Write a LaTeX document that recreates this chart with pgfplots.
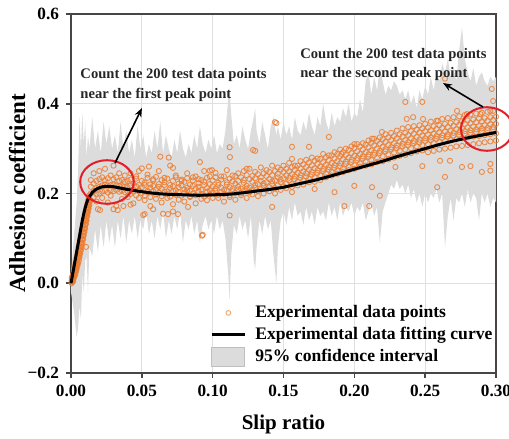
\documentclass[border=0pt]{standalone}
\usepackage{pgfplots}
\pgfplotsset{compat=1.18}
\usepackage{pgfplotstable}
\usepgfplotslibrary{fillbetween}
\usetikzlibrary{arrows.meta}
\usepackage{fontspec}
\setmainfont{Liberation Serif}
\definecolor{orng}{RGB}{237,125,49}
\definecolor{bandgray}{RGB}{220,220,220}
\definecolor{axgray}{RGB}{70,70,70}
\definecolor{ellred}{RGB}{228,30,38}
\pgfplotsset{
  legmark/.style={legend image code/.code={\draw[##1] plot coordinates {(8.25pt,0pt)}; \path (19.5pt,0pt);}},
  legline/.style={legend image code/.code={\draw[##1] (0pt,0pt) -- (16.5pt,0pt); \path (19.5pt,0pt);}},
  legbox/.style={legend image code/.code={\draw[##1] (0pt,-4.75pt) rectangle (16.5pt,4.75pt); \path (19.5pt,0pt);}},
}

% confidence band: x, upper, lower
\pgfplotstableread{
x up lo
0.000 0.02 -0.02
0.002 0.10 -0.06
0.004 0.18 -0.12
0.005 0.25 -0.10
0.006 0.37 -0.05
0.007 0.30 -0.08
0.008 0.38 0.02
0.009 0.31 -0.02
0.010 0.36 0.05
0.011 0.28 0.06
0.012 0.33 -0.02
0.013 0.30 0.08
0.015 0.37 0.06
0.017 0.30 0.12
0.019 0.34 0.07
0.021 0.29 0.13
0.023 0.36 0.08
0.025 0.31 0.14
0.027 0.35 0.09
0.029 0.30 0.13
0.031 0.33 0.08
0.033 0.29 0.14
0.035 0.36 0.10
0.037 0.30 0.15
0.039 0.34 0.09
0.041 0.29 0.14
0.043 0.32 0.11
0.045 0.28 0.15
0.047 0.35 0.10
0.049 0.30 0.14
0.051 0.33 0.12
0.053 0.28 0.16
0.055 0.31 0.11
0.057 0.29 0.14
0.059 0.34 0.10
0.061 0.30 0.15
0.063 0.36 0.12
0.065 0.29 0.16
0.067 0.33 0.10
0.069 0.30 0.14
0.071 0.28 0.11
0.073 0.32 0.15
0.075 0.29 0.12
0.077 0.34 0.16
0.079 0.30 0.09
0.081 0.28 0.14
0.083 0.31 0.12
0.085 0.29 0.15
0.087 0.33 0.11
0.089 0.30 0.14
0.091 0.35 0.09
0.093 0.31 0.13
0.095 0.29 0.15
0.097 0.32 0.12
0.099 0.30 0.14
0.101 0.33 0.11
0.103 0.29 0.15
0.105 0.31 0.12
0.107 0.30 0.14
0.109 0.34 0.10
0.111 0.41 0.02
0.112 0.43 -0.04
0.113 0.38 0.06
0.115 0.31 0.13
0.117 0.33 0.11
0.119 0.30 0.15
0.121 0.35 0.12
0.123 0.32 0.14
0.125 0.30 0.10
0.127 0.34 0.15
0.129 0.37 0.05
0.130 0.39 0.03
0.131 0.34 0.08
0.133 0.31 0.14
0.135 0.36 0.11
0.137 0.33 0.15
0.139 0.30 0.12
0.141 0.35 0.14
0.143 0.37 0.06
0.145 0.33 0.00
0.146 0.35 0.08
0.148 0.32 0.14
0.150 0.36 0.16
0.152 0.33 0.13
0.154 0.35 0.17
0.156 0.32 0.14
0.158 0.37 0.18
0.160 0.34 0.15
0.162 0.33 0.16
0.164 0.36 0.13
0.166 0.34 0.17
0.168 0.38 0.14
0.170 0.35 0.16
0.172 0.33 0.13
0.174 0.37 0.17
0.176 0.35 0.15
0.178 0.40 0.16
0.180 0.36 0.14
0.182 0.34 0.18
0.184 0.38 0.15
0.186 0.35 0.17
0.188 0.37 0.14
0.190 0.36 0.18
0.192 0.39 0.15
0.194 0.37 0.17
0.196 0.40 0.16
0.198 0.36 0.18
0.200 0.38 0.15
0.202 0.37 0.17
0.204 0.41 0.16
0.206 0.38 0.18
0.208 0.45 0.14
0.210 0.47 0.16
0.212 0.42 0.18
0.214 0.46 0.15
0.216 0.43 0.17
0.218 0.48 0.09
0.220 0.45 0.16
0.222 0.42 0.18
0.224 0.44 0.20
0.226 0.43 0.22
0.228 0.45 0.21
0.230 0.44 0.23
0.232 0.42 0.21
0.234 0.43 0.22
0.236 0.41 0.20
0.238 0.43 0.22
0.240 0.40 0.19
0.242 0.42 0.21
0.244 0.39 0.18
0.246 0.43 0.20
0.248 0.41 0.17
0.250 0.44 0.20
0.252 0.42 0.18
0.254 0.46 0.20
0.256 0.43 0.19
0.258 0.47 0.21
0.260 0.45 0.18
0.262 0.49 0.20
0.264 0.47 0.08
0.266 0.50 0.15
0.268 0.46 0.19
0.270 0.48 0.14
0.272 0.45 0.19
0.274 0.52 0.18
0.276 0.57 0.20
0.278 0.50 0.17
0.280 0.47 0.21
0.282 0.45 0.18
0.284 0.48 0.20
0.286 0.44 0.19
0.288 0.46 0.14
0.290 0.47 0.20
0.292 0.45 0.18
0.294 0.44 0.20
0.296 0.46 0.17
0.298 0.45 0.19
0.300 0.46 0.18
}\band

% fitting curve
\pgfplotstableread{
x y
0.000 0.000
0.002 0.035
0.004 0.070
0.006 0.105
0.008 0.140
0.010 0.168
0.012 0.187
0.015 0.202
0.018 0.210
0.021 0.214
0.025 0.216
0.030 0.215
0.035 0.212
0.040 0.209
0.050 0.204
0.060 0.200
0.070 0.198
0.080 0.197
0.090 0.196
0.100 0.197
0.110 0.198
0.120 0.201
0.130 0.205
0.140 0.209
0.150 0.214
0.160 0.221
0.170 0.228
0.180 0.236
0.190 0.245
0.200 0.254
0.210 0.263
0.220 0.272
0.230 0.282
0.240 0.291
0.250 0.300
0.260 0.309
0.270 0.317
0.280 0.324
0.290 0.330
0.300 0.336
}\fitc

% experimental points: x and four measured values at each x
\pgfplotstableread{
x a b c d
0.0005 0.002 0.006 0.012 0.000
0.0010 0.004 0.010 0.016 0.008
0.0015 0.008 0.014 0.020 0.004
0.0020 0.012 0.020 0.026 0.016
0.0025 0.016 0.026 0.034 0.022
0.0030 0.020 0.032 0.042 0.028
0.0035 0.026 0.038 0.048 0.030
0.0040 0.032 0.044 0.056 0.040
0.0045 0.038 0.052 0.064 0.046
0.0050 0.044 0.060 0.072 0.054
0.0055 0.050 0.066 0.080 0.058
0.0060 0.058 0.074 0.088 0.066
0.0065 0.066 0.082 0.096 0.072
0.0070 0.074 0.090 0.104 0.080
0.0075 0.082 0.098 0.112 0.088
0.0080 0.090 0.106 0.120 0.096
0.0085 0.098 0.114 0.128 0.106
0.0090 0.106 0.122 0.136 0.114
0.0095 0.114 0.130 0.144 0.122
0.0100 0.122 0.138 0.152 0.130
0.0105 0.132 0.146 0.160 0.140
0.0110 0.140 0.154 0.168 0.150
0.0115 0.150 0.162 0.176 0.158
0.0120 0.158 0.170 0.184 0.166
0.0125 0.166 0.178 0.190 0.174
0.0130 0.174 0.186 0.196 0.182
0.014 0.200 0.185 0.215 0.230
0.016 0.205 0.192 0.222 0.245
0.018 0.212 0.198 0.228 0.182
0.020 0.215 0.200 0.232 0.250
0.022 0.218 0.204 0.236 0.190
0.024 0.220 0.206 0.230 0.255
0.026 0.218 0.202 0.234 0.180
0.028 0.219 0.207 0.240 0.195
0.030 0.220 0.205 0.232 0.262
0.032 0.218 0.208 0.236 0.172
0.034 0.217 0.204 0.228 0.245
0.036 0.216 0.206 0.230 0.188
0.038 0.215 0.203 0.226 0.240
0.040 0.214 0.205 0.228 0.192
0.042 0.218 0.199 0.231 0.245
0.044 0.209 0.204 0.222 0.178
0.046 0.216 0.196 0.233 0.238
0.048 0.207 0.206 0.219 0.190
0.050 0.214 0.201 0.228 0.256
0.052 0.219 0.195 0.224 0.185
0.054 0.206 0.203 0.235 0.242
0.056 0.213 0.192 0.220 0.172
0.058 0.217 0.205 0.229 0.232
0.060 0.208 0.198 0.237 0.188
0.062 0.215 0.202 0.221 0.250
0.064 0.210 0.194 0.230 0.180
0.066 0.219 0.204 0.225 0.235
0.068 0.205 0.199 0.233 0.190
0.070 0.212 0.193 0.219 0.262
0.072 0.216 0.206 0.228 0.176
0.074 0.207 0.197 0.236 0.240
0.076 0.214 0.203 0.222 0.186
0.078 0.218 0.195 0.231 0.228
0.080 0.209 0.201 0.226 0.182
0.082 0.213 0.207 0.234 0.245
0.084 0.206 0.194 0.220 0.192
0.086 0.217 0.200 0.229 0.236
0.088 0.211 0.196 0.238 0.178
0.090 0.215 0.205 0.223 0.232
0.092 0.208 0.199 0.230 0.188
0.094 0.219 0.193 0.226 0.250
0.096 0.212 0.204 0.235 0.185
0.098 0.207 0.198 0.221 0.238
0.100 0.216 0.202 0.229 0.190
0.102 0.211 0.206 0.236 0.246
0.104 0.219 0.197 0.224 0.190
0.106 0.213 0.203 0.231 0.238
0.108 0.208 0.199 0.238 0.182
0.110 0.220 0.207 0.225 0.252
0.112 0.214 0.196 0.233 0.192
0.114 0.210 0.205 0.227 0.240
0.116 0.222 0.201 0.239 0.186
0.118 0.215 0.209 0.228 0.245
0.120 0.211 0.200 0.236 0.196
0.122 0.224 0.206 0.230 0.250
0.124 0.217 0.211 0.241 0.190
0.126 0.213 0.203 0.232 0.255
0.128 0.226 0.208 0.239 0.198
0.130 0.219 0.213 0.234 0.248
0.132 0.221 0.205 0.243 0.194
0.134 0.228 0.210 0.236 0.258
0.136 0.222 0.217 0.245 0.200
0.138 0.225 0.209 0.239 0.252
0.140 0.232 0.214 0.248 0.205
0.142 0.227 0.221 0.241 0.262
0.144 0.229 0.212 0.250 0.200
0.146 0.236 0.218 0.244 0.258
0.148 0.231 0.225 0.253 0.208
0.150 0.234 0.216 0.248 0.262
0.152 0.240 0.222 0.255 0.212
0.154 0.235 0.229 0.249 0.268
0.156 0.243 0.221 0.259 0.215
0.158 0.238 0.232 0.252 0.262
0.160 0.246 0.226 0.262 0.218
0.162 0.241 0.235 0.256 0.272
0.164 0.249 0.229 0.265 0.220
0.166 0.245 0.238 0.259 0.275
0.168 0.253 0.233 0.269 0.225
0.170 0.248 0.242 0.263 0.280
0.172 0.256 0.236 0.273 0.226
0.174 0.252 0.246 0.266 0.278
0.176 0.260 0.240 0.277 0.230
0.178 0.255 0.250 0.270 0.288
0.180 0.264 0.244 0.281 0.236
0.182 0.259 0.253 0.274 0.285
0.184 0.268 0.248 0.285 0.240
0.186 0.263 0.257 0.278 0.292
0.188 0.272 0.251 0.288 0.244
0.190 0.267 0.261 0.283 0.298
0.192 0.276 0.255 0.292 0.248
0.194 0.271 0.266 0.286 0.300
0.196 0.280 0.259 0.297 0.252
0.198 0.275 0.270 0.290 0.305
0.200 0.284 0.263 0.301 0.255
0.202 0.279 0.274 0.294 0.310
0.204 0.288 0.267 0.305 0.260
0.206 0.283 0.278 0.298 0.312
0.208 0.292 0.271 0.309 0.262
0.210 0.287 0.282 0.303 0.318
0.212 0.296 0.275 0.313 0.265
0.214 0.291 0.286 0.307 0.322
0.216 0.300 0.279 0.317 0.270
0.218 0.295 0.290 0.311 0.325
0.220 0.304 0.283 0.321 0.272
0.222 0.299 0.294 0.315 0.332
0.224 0.308 0.287 0.325 0.276
0.226 0.303 0.298 0.319 0.335
0.228 0.312 0.291 0.328 0.280
0.230 0.307 0.301 0.323 0.340
0.232 0.316 0.295 0.332 0.284
0.234 0.311 0.305 0.327 0.345
0.236 0.319 0.298 0.335 0.286
0.238 0.314 0.308 0.330 0.348
0.240 0.323 0.301 0.339 0.290
0.242 0.317 0.312 0.333 0.350
0.244 0.326 0.305 0.342 0.294
0.246 0.320 0.314 0.336 0.352
0.248 0.329 0.308 0.345 0.296
0.250 0.323 0.317 0.339 0.355
0.252 0.331 0.310 0.347 0.292
0.254 0.325 0.319 0.341 0.360
0.256 0.333 0.312 0.350 0.295
0.258 0.328 0.322 0.344 0.362
0.260 0.336 0.315 0.352 0.298
0.262 0.330 0.324 0.346 0.366
0.264 0.338 0.317 0.355 0.300
0.266 0.332 0.327 0.348 0.368
0.268 0.340 0.319 0.357 0.302
0.270 0.335 0.329 0.351 0.370
0.272 0.343 0.321 0.359 0.305
0.274 0.337 0.331 0.353 0.372
0.276 0.345 0.323 0.361 0.306
0.278 0.339 0.333 0.355 0.375
0.280 0.347 0.325 0.363 0.308
0.282 0.341 0.335 0.357 0.376
0.284 0.349 0.327 0.365 0.310
0.286 0.343 0.337 0.359 0.378
0.288 0.350 0.328 0.367 0.312
0.290 0.345 0.339 0.361 0.380
0.292 0.352 0.330 0.368 0.314
0.294 0.346 0.341 0.362 0.382
0.296 0.354 0.332 0.370 0.316
0.298 0.348 0.343 0.364 0.384
0.300 0.355 0.334 0.371 0.318
}\pts

% scattered outlying points
\pgfplotstableread{
x y
0.0106 0.081
0.0190 0.165
0.0205 0.163
0.0330 0.163
0.0370 0.172
0.0300 0.165
0.0420 0.175
0.0510 0.152
0.0520 0.154
0.0480 0.250
0.0550 0.260
0.0580 0.165
0.0630 0.282
0.0650 0.155
0.0685 0.154
0.0690 0.280
0.0720 0.257
0.0720 0.160
0.0755 0.154
0.0826 0.170
0.0910 0.270
0.0925 0.106
0.0930 0.108
0.0980 0.251
0.0995 0.252
0.1120 0.303
0.1122 0.281
0.1120 0.151
0.1240 0.255
0.1285 0.297
0.1300 0.295
0.1420 0.170
0.1440 0.359
0.1450 0.357
0.1560 0.304
0.1560 0.277
0.1560 0.203
0.1680 0.304
0.1720 0.210
0.1820 0.326
0.1860 0.203
0.1910 0.288
0.1930 0.172
0.2000 0.310
0.2000 0.217
0.2105 0.172
0.2125 0.322
0.2125 0.214
0.2180 0.195
0.2195 0.337
0.2290 0.259
0.2360 0.404
0.2370 0.366
0.2415 0.370
0.2480 0.404
0.2485 0.366
0.2480 0.261
0.2585 0.214
0.2590 0.362
0.2605 0.273
0.2640 0.456
0.2640 0.237
0.2675 0.273
0.2725 0.384
0.2760 0.259
0.2795 0.377
0.2820 0.261
0.2890 0.377
0.2900 0.248
0.2960 0.384
0.2960 0.266
0.2960 0.251
0.2970 0.433
0.2980 0.406
}\outl

\begin{document}
\begin{tikzpicture}
\begin{axis}[
  scale only axis,
  width=212.5pt, height=179.5pt,
  xmin=0, xmax=0.3, ymin=-0.2, ymax=0.6,
  clip=false,
  clip marker paths=true,
  xtick={0,0.05,0.1,0.15,0.2,0.25,0.3},
  xticklabels={0.00,0.05,0.10,0.15,0.20,0.25,0.30},
  ytick={-0.2,0,0.2,0.4,0.6},
  yticklabels={−0.2,0.0,0.2,0.4,0.6},
  tick label style={font=\fontsize{8.6}{10}\selectfont\bfseries},
  /pgf/number format/assume math mode=true,
  tick align=outside,
  xtick pos=bottom, ytick pos=left,
  major tick length=2.5pt,
  tick style={axgray, line width=0.8pt},
  axis line style={axgray, line width=1pt},
  grid=major,
  grid style={black!12, line width=0.4pt},
  xlabel={Slip ratio},
  ylabel={Adhesion coefficient},
  xlabel style={font=\fontsize{10.5}{12}\selectfont\bfseries, at={(axis description cs:0.5,-0.142)}, anchor=center},
  ylabel style={font=\fontsize{11.5}{13}\selectfont\bfseries, at={(axis description cs:-0.127,0.5)}, anchor=center},
  legend style={at={(0.327,0.198)}, anchor=north west, draw=none, fill=none,
    font=\fontsize{8.8}{10.5}\selectfont\bfseries, row sep=0.2pt,
    inner sep=0pt, nodes={inner sep=1.5pt}},
  legend cell align=left,
]
% confidence band
\addplot[name path=U, draw=none, forget plot] table[x=x, y=up] {\band};
\addplot[name path=L, draw=none, forget plot] table[x=x, y=lo] {\band};
\addplot[fill=bandgray, draw=none, forget plot] fill between[of=U and L];

% experimental points
\pgfplotsset{ptstyle/.style={only marks, mark=o, mark size=1.3pt, orng, mark options={line width=0.45pt, draw opacity=0.85}, forget plot}}
\addplot[ptstyle] table[x=x, y=a] {\pts};
\addplot[ptstyle] table[x=x, y=b] {\pts};
\addplot[ptstyle] table[x=x, y=c] {\pts};
\addplot[ptstyle] table[x=x, y=d] {\pts};
\addplot[ptstyle] table[x=x, y=y] {\outl};

% fitting curve
\addplot[black, line width=1.5pt, smooth, forget plot] table[x=x, y=y] {\fitc};

% legend
\addlegendimage{only marks, mark=o, mark size=1.2pt, orng!70, mark options={line width=0.45pt}, legmark}
\addlegendentry{Experimental data points}
\addlegendimage{black, line width=1.5pt, legline}
\addlegendentry{Experimental data fitting curve}
\addlegendimage{fill=bandgray, draw=black!25, line width=0.4pt, legbox}
\addlegendentry{95\% confidence interval}

% annotations
\draw[ellred, line width=1pt] (axis cs:0.0254,0.2256) ellipse [x radius=13.4pt, y radius=10.9pt];
\draw[ellred, line width=1pt] (axis cs:0.2936,0.3437) ellipse [x radius=13pt, y radius=10.9pt];
\draw[black, line width=0.8pt, -{Stealth[length=4.5pt, width=3.5pt]}] (axis cs:0.0311,0.268) -- (axis cs:0.0501,0.3905);
\draw[black, line width=0.8pt, -{Stealth[length=4.5pt, width=3.5pt]}] (axis cs:0.2908,0.3928) -- (axis cs:0.2626,0.4462);
\node[anchor=west, align=left, inner sep=0pt, font=\fontsize{7.3}{9.7}\selectfont\bfseries, text=black!85]
  at (axis cs:0.0064,0.442) {Count the 200 test data points\\near the first peak point};
\node[anchor=west, align=left, inner sep=0pt, font=\fontsize{7.3}{9.7}\selectfont\bfseries, text=black!85]
  at (axis cs:0.1616,0.488) {Count the 200 test data points\\near the second peak point};
\end{axis}
\pgfresetboundingbox
\path[use as bounding box] ([shift={(-35.5pt,-33pt)}]current axis.south west) rectangle ([shift={(6.5pt,7pt)}]current axis.north east);
\end{tikzpicture}
\end{document}
